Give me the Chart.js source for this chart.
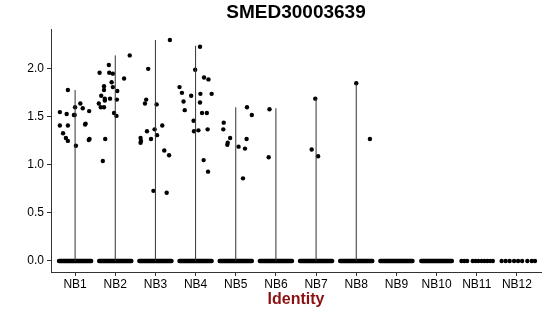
<!DOCTYPE html>
<html>
<head>
<meta charset="utf-8">
<script src="https://cdn.jsdelivr.net/npm/chart.js@4"></script>
<style>
  body { margin: 0; background: #fff; }
  #wrap { width: 550px; height: 316px; }
</style>
</head>
<body>
<div id="wrap"><canvas id="vln" width="550" height="316"></canvas></div>
<script>
const categories = ['NB1', 'NB2', 'NB3', 'NB4', 'NB5', 'NB6', 'NB7', 'NB8', 'NB9', 'NB10', 'NB11', 'NB12'];
const yTicks = [0, 0.5, 1, 1.5, 2];
const chartTitle = 'SMED30003639';

// top of each violin (max expression per cluster), 0 = no violin
const violinMax = [1.78, 2.14, 2.30, 2.24, 1.60, 1.59, 1.69, 1.85, 0, 0, 0, 0];

// expressed cells per cluster: [jitter offset, value]
const nb1 = [[-0.18,1.78],[-0.38,1.55],[-0.21,1.53],[-0.38,1.41],[-0.18,1.41],[-0.30,1.33],[-0.23,1.28],[-0.18,1.25],[-0.03,1.52],[-0.01,1.52],[0.0,1.60],[0.02,1.20],[0.13,1.64],[0.19,1.59],[0.35,1.56],[0.25,1.42],[0.26,1.43],[0.34,1.26],[0.36,1.27]];
const nb2 = [[-0.39,1.96],[-0.16,2.04],[-0.15,1.96],[-0.06,1.95],[-0.28,1.82],[-0.28,1.78],[-0.09,1.86],[-0.06,1.81],[0.22,1.90],[0.36,2.14],[-0.35,1.72],[-0.26,1.69],[-0.26,1.67],[-0.13,1.69],[0.05,1.77],[0.04,1.68],[-0.41,1.64],[-0.36,1.60],[-0.28,1.60],[-0.03,1.54],[0.03,1.51],[-0.25,1.27],[-0.31,1.04]];
const nb3 = [[0.36,2.30],[-0.18,2.00],[-0.23,1.68],[-0.26,1.64],[0.03,1.63],[-0.21,1.35],[-0.02,1.37],[0.17,1.41],[-0.37,1.28],[-0.36,1.25],[-0.37,1.23],[-0.11,1.27],[0.04,1.31],[0.22,1.15],[0.34,1.10],[-0.05,0.73],[0.28,0.71]];
const nb4 = [[0.11,2.23],[-0.01,1.99],[-0.40,1.81],[-0.34,1.75],[-0.11,1.72],[0.21,1.91],[0.32,1.89],[0.12,1.74],[0.40,1.74],[-0.30,1.66],[-0.27,1.57],[0.11,1.65],[0.16,1.54],[0.28,1.54],[-0.05,1.46],[-0.04,1.35],[0.07,1.36],[0.30,1.37],[0.20,1.05],[0.31,0.93]];
const nb5 = [[0.28,1.60],[0.40,1.52],[-0.30,1.44],[-0.31,1.37],[-0.14,1.28],[-0.20,1.23],[-0.21,1.21],[0.07,1.19],[0.27,1.27],[0.23,1.17],[0.18,0.86]];
const nb6 = [[-0.16,1.58],[-0.18,1.08]];
const nb7 = [[-0.02,1.69],[-0.11,1.16],[0.05,1.09]];
const nb8 = [[0.0,1.85],[0.34,1.27]];
const expressed = [nb1, nb2, nb3, nb4, nb5, nb6, nb7, nb8, [], [], [], []];

// zero cells: dense clusters drawn as a band, sparse ones as single dots
const zeroBand = [0.40, 0.40, 0.40, 0.40, 0.40, 0.40, 0.40, 0.40, 0.40, 0.38, 0, 0];
const zeroDotsNB11 = [-0.38, -0.31, -0.24, -0.10, -0.03, 0.04, 0.12, 0.19, 0.26, 0.33, 0.40];
const zeroDotsNB12 = [-0.38, -0.28, -0.18, -0.07, 0.03, 0.13, 0.26, 0.37, 0.45];

const violinLines = [];
violinMax.forEach((m, i) => {
  if (!m) return;
  violinLines.push({x: i + 1, y: 0}, {x: i + 1, y: m}, {x: i + 1, y: null});
});

const bandLines = [];
zeroBand.forEach((w, i) => {
  if (!w) return;
  bandLines.push({x: i + 1 - w, y: 0}, {x: i + 1 + w, y: 0}, {x: i + 1, y: null});
});

const zeroDots = zeroDotsNB11.map(o => ({x: 11 + o, y: 0}))
  .concat(zeroDotsNB12.map(o => ({x: 12 + o, y: 0})));

const cellPoints = [];
expressed.forEach((pts, i) => {
  pts.forEach(p => cellPoints.push({x: i + 1 + p[0], y: p[1]}));
});

const font = "'Liberation Sans', Arial, Helvetica, sans-serif";

// ggplot centres the title over the panel, not the whole canvas
const panelTitle = {
  id: 'panelTitle',
  afterDraw(chart) {
    const c = chart.ctx;
    const a = chart.chartArea;
    c.save();
    c.font = 'bold 19px ' + font;
    c.fillStyle = '#000';
    c.textAlign = 'center';
    c.textBaseline = 'middle';
    c.fillText(chartTitle, (a.left + a.right) / 2, 13);
    c.restore();
  }
};

new Chart(document.getElementById('vln').getContext('2d'), {
  type: 'scatter',
  data: {
    datasets: [
      {
        type: 'line',
        data: violinLines,
        borderColor: '#333',
        borderWidth: 1,
        pointRadius: 0,
        spanGaps: false
      },
      {
        type: 'line',
        data: bandLines,
        borderColor: '#000',
        borderWidth: 4.5,
        borderCapStyle: 'round',
        pointRadius: 0,
        spanGaps: false
      },
      {
        data: zeroDots,
        backgroundColor: '#000',
        borderWidth: 0,
        pointRadius: 2.2
      },
      {
        data: cellPoints,
        backgroundColor: '#000',
        borderWidth: 0,
        pointRadius: 2.2
      }
    ]
  },
  options: {
    responsive: false,
    animation: false,
    layout: { padding: { left: 0, right: 9, top: 29, bottom: 7 } },
    plugins: {
      legend: { display: false },
      tooltip: { enabled: false },
      title: { display: false }
    },
    scales: {
      x: {
        type: 'linear',
        min: 0.4,
        max: 12.6,
        afterBuildTicks: s => { s.ticks = categories.map((c, i) => ({value: i + 1})); },
        afterFit: s => { s.height = 37; },
        ticks: {
          color: '#000',
          font: { family: font, size: 12 },
          padding: 1,
          callback: v => categories[v - 1]
        },
        grid: { drawOnChartArea: false, tickLength: 4, color: '#333' },
        border: { color: '#333', width: 1 },
        title: {
          display: true,
          text: 'Identity',
          color: '#8b1010',
          font: { family: font, size: 16, weight: 'bold' },
          padding: { top: 0, bottom: 0 }
        }
      },
      y: {
        min: -0.115,
        max: 2.415,
        afterBuildTicks: s => { s.ticks = yTicks.map(v => ({value: v})); },
        afterFit: s => { s.width = 51; },
        ticks: {
          color: '#000',
          font: { family: font, size: 12 },
          padding: 3,
          callback: v => v.toFixed(1)
        },
        grid: { drawOnChartArea: false, tickLength: 4, color: '#333' },
        border: { color: '#333', width: 1 }
      }
    }
  },
  plugins: [panelTitle]
});
</script>
</body>
</html>
